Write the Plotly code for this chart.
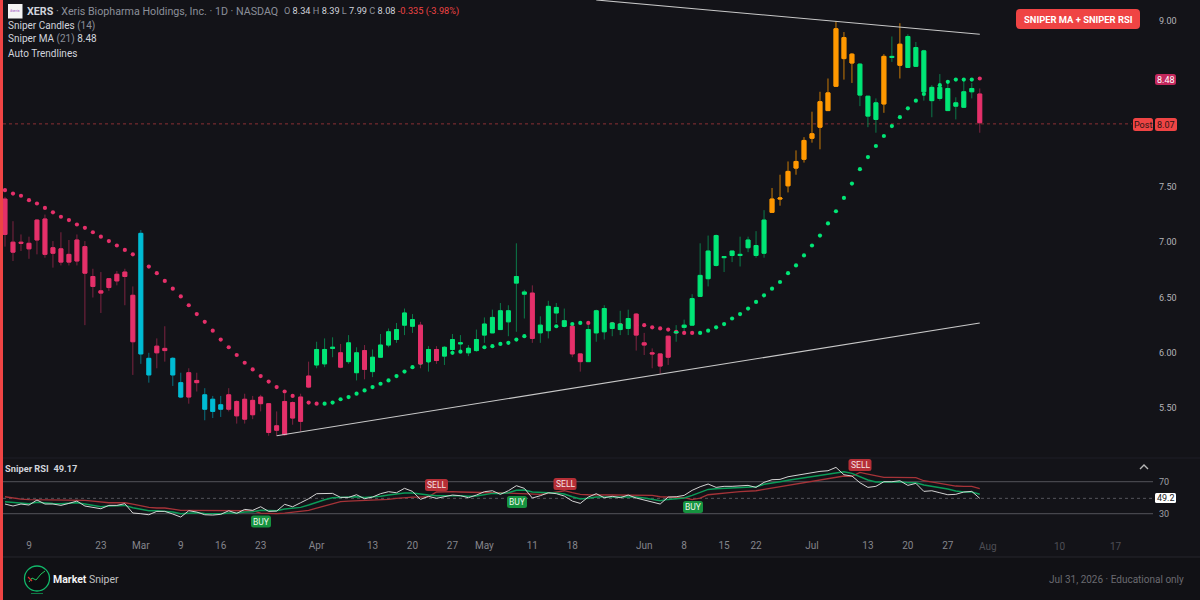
import plotly.graph_objects as go

W, H = 1200, 600
BG = "#131318"
RED, GREEN, ORANGE, CYAN = "#e5306a", "#00e676", "#ff9800", "#00bcd4"
WICK = {"r": "#7d2340", "g": "#0b7a49", "o": "#c87a06", "c": "#08707e"}
BODY = {"r": RED, "g": GREEN, "o": ORANGE, "c": CYAN}

candle_colors = list("r" * 17 + "cc" + "rr" + "cc" + "rr" + "ccc" + "r" * 11 + "ggg" + "r" + "gg" + "r" + "g" * 6
                     + "r" + "g" + "r" + "g" * 11 + "r" + "g" * 4 + "rr" + "g" * 6 + "r" * 5 + "g" * 12 + "o" * 11
                     + "ggg" + "o" + "g" + "o" + "g" * 9 + "r")

opens = [7.39, 7.00, 7.00, 6.99, 7.20, 7.21, 6.95, 6.94, 6.89, 7.02, 6.96, 6.69, 6.56, 6.67, 6.71, 6.73, 6.52,
         7.08, 5.95, 6.06, 6.04, 5.95, 5.73, 5.82, 5.75, 5.62, 5.58, 5.53,
         5.62, 5.56, 5.58, 5.57, 5.60, 5.54, 5.34, 5.56, 5.55, 5.60, 5.79,
         5.89, 5.90, 6.04, 6.00, 5.92, 5.82, 6.02, 5.83, 5.96, 6.07, 6.12, 6.25, 6.24, 6.25, 5.92, 6.03,
         5.97, 6.03, 6.08, 6.00, 6.02, 6.16, 6.18, 6.21, 6.28, 6.63, 6.53, 6.54, 6.18, 6.20, 6.36, 6.24, 6.24, 5.99,
         5.92, 6.18, 6.19, 6.22, 6.21, 6.22, 6.35, 6.09, 6.00, 5.99, 6.15,
         6.18, 6.23, 6.25, 6.51, 6.67, 6.79, 6.86, 6.88, 6.88, 6.95, 6.88, 6.90,
         7.27, 7.39, 7.51, 7.67, 7.75, 7.94, 8.04, 8.19, 8.41, 8.66, 8.62,
         8.33, 8.14, 8.11, 8.25, 8.67, 8.60, 8.58, 8.59, 8.36, 8.28, 8.30, 8.19, 8.23, 8.22, 8.36, 8.34]
closes = [7.07, 6.91, 6.99, 6.94, 7.02, 6.89, 6.90, 6.82, 6.82, 6.83, 6.72, 6.60, 6.54, 6.59, 6.65, 6.69, 6.10,
          5.99, 5.80, 6.00, 6.02, 5.80, 5.60, 5.60, 5.73, 5.49, 5.47, 5.49,
          5.49, 5.43, 5.40, 5.44, 5.54, 5.28, 5.30, 5.26, 5.41, 5.38, 5.69,
          6.03, 6.03, 6.05, 5.87, 6.09, 6.00, 5.85, 5.96, 6.07, 6.19, 6.21, 6.36, 6.30, 5.90, 6.03, 5.93,
          6.05, 6.12, 6.09, 6.04, 6.12, 6.26, 6.32, 6.38, 6.38, 6.69, 6.55, 6.13, 6.25, 6.42, 6.41, 6.29, 5.99, 5.92,
          6.21, 6.38, 6.40, 6.27, 6.26, 6.31, 6.16, 6.07, 5.99, 5.88, 5.96,
          6.19, 6.25, 6.49, 6.70, 6.92, 7.06, 6.87, 6.92, 6.89, 7.02, 6.97, 7.20,
          7.39, 7.40, 7.64, 7.73, 7.92, 7.98, 8.27, 8.35, 8.93, 8.85, 8.70,
          8.61, 8.32, 8.26, 8.68, 8.68, 8.79, 8.86, 8.76, 8.73, 8.40, 8.40, 8.39, 8.26, 8.36, 8.39, 8.08]
highs = [7.41, 7.19, 7.07, 7.05, 7.21, 7.25, 7.01, 7.09, 7.02, 7.07, 7.01, 6.76, 6.73, 6.67, 6.74, 6.76, 6.60,
         7.11, 6.00, 6.13, 6.24, 5.96, 5.82, 5.86, 5.82, 5.68, 5.61, 5.61,
         5.68, 5.57, 5.63, 5.61, 5.62, 5.54, 5.47, 5.63, 5.56, 5.63, 5.92,
         6.10, 6.13, 6.14, 6.08, 6.16, 6.05, 6.07, 6.03, 6.17, 6.22, 6.27, 6.40, 6.35, 6.28, 6.06, 6.06,
         6.06, 6.17, 6.16, 6.07, 6.21, 6.32, 6.39, 6.45, 6.43, 6.99, 6.57, 6.61, 6.33, 6.47, 6.45, 6.40, 6.26, 5.99,
         6.25, 6.39, 6.43, 6.28, 6.38, 6.39, 6.36, 6.18, 6.04, 5.99, 6.15,
         6.25, 6.30, 6.53, 6.99, 7.06, 7.07, 6.87, 6.92, 7.05, 7.05, 7.10, 7.29,
         7.49, 7.61, 7.73, 7.83, 7.95, 8.18, 8.36, 8.48, 9.00, 8.90, 8.71,
         8.62, 8.32, 8.30, 8.70, 8.86, 8.98, 8.88, 8.81, 8.74, 8.42, 8.52, 8.44, 8.31, 8.47, 8.44, 8.39]
lows = [6.96, 6.83, 6.92, 6.85, 6.89, 6.86, 6.77, 6.79, 6.79, 6.79, 6.25, 6.50, 6.36, 6.56, 6.61, 6.43, 5.80,
        5.90, 5.73, 5.86, 5.92, 5.70, 5.59, 5.54, 5.65, 5.39, 5.41, 5.42,
        5.47, 5.36, 5.36, 5.40, 5.47, 5.25, 5.25, 5.25, 5.35, 5.29, 5.68,
        5.86, 5.87, 5.96, 5.86, 5.90, 5.75, 5.76, 5.78, 5.96, 6.05, 6.09, 6.16, 6.18, 5.86, 5.83, 5.90,
        5.89, 5.99, 6.00, 5.97, 6.01, 6.09, 6.18, 6.21, 6.15, 6.19, 6.31, 6.09, 6.09, 6.13, 6.27, 6.24, 5.96, 5.83,
        5.92, 6.10, 6.12, 6.15, 6.16, 6.16, 6.02, 5.98, 5.86, 5.81, 5.89,
        6.10, 6.18, 6.25, 6.51, 6.60, 6.78, 6.73, 6.82, 6.78, 6.91, 6.86, 6.86,
        7.27, 7.33, 7.45, 7.61, 7.72, 7.90, 7.84, 8.19, 8.41, 8.47, 8.44,
        8.23, 8.04, 7.99, 8.17, 8.63, 8.48, 8.58, 8.59, 8.28, 8.13, 8.28, 8.19, 8.11, 8.22, 8.30, 7.99]

ma_values = [7.47, 7.44, 7.42, 7.38, 7.35, 7.31, 7.27, 7.23, 7.20, 7.16, 7.13, 7.09, 7.05, 7.01, 6.97, 6.93, 6.89,
             6.84, 6.78, 6.72, 6.65, 6.58, 6.51, 6.43, 6.35, 6.28, 6.20, 6.12, 6.05, 5.98, 5.91, 5.85, 5.79, 5.74,
             5.69, 5.65, 5.61, 5.58, 5.55, 5.54, 5.54, 5.55, 5.58, 5.60, 5.63, 5.66, 5.69, 5.72, 5.75, 5.79, 5.83,
             5.87, 5.91, 5.93, 5.96, 5.99, 6.00, 6.01, 6.03, 6.04, 6.05, 6.06, 6.08, 6.09, 6.12, 6.15, 6.18, 6.21,
             6.22, 6.24, 6.25, 6.26, 6.27, 6.27, 6.26, 6.26, 6.26, 6.25, 6.25, 6.25, 6.25, 6.23, 6.22, 6.21, 6.19,
             6.18, 6.18, 6.18, 6.20, 6.23, 6.26, 6.31, 6.35, 6.40, 6.46, 6.52, 6.58, 6.64, 6.72, 6.79, 6.88, 6.97,
             7.06, 7.17, 7.28, 7.40, 7.53, 7.66, 7.77, 7.87, 7.96, 8.05, 8.13, 8.21, 8.28, 8.34, 8.38, 8.42, 8.45,
             8.47, 8.47, 8.47, 8.48]
ma_colors = list("r" * 40 + "g" * 33 + "r" * 14 + "g" * 35 + "r")

rsi_raw = [42.1, 39.6, 42.1, 40.8, 47.1, 42.1, 42.1, 40.4, 42.9, 45.8, 39.6, 37.9, 36.2, 40.4, 40.4, 42.5, 30.8, 30.0,
           28.7, 32.9, 32.9, 29.6, 25.8, 33.7, 32.1, 28.7, 28.3, 29.2, 33.7, 30.4, 35.4, 34.2, 38.7, 32.9, 33.3, 41.7,
           38.7, 43.7, 48.7, 55.0, 55.0, 55.4, 50.4, 50.4, 53.7, 48.7, 50.8, 55.0, 57.5, 56.2, 61.7, 57.9, 47.9, 51.7,
           49.2, 51.7, 53.3, 52.5, 50.0, 53.3, 57.5, 58.7, 54.2, 58.7, 65.0, 61.7, 49.6, 52.5, 56.2, 55.0, 52.1, 45.8,
           42.9, 50.8, 55.0, 50.0, 51.7, 50.0, 53.3, 49.6, 47.1, 45.0, 42.1, 50.8, 51.2, 52.9, 59.2, 63.7, 67.1, 62.9,
           64.2, 64.2, 65.0, 65.4, 62.9, 69.2, 72.5, 72.9, 76.2, 77.9, 79.6, 80.4, 82.9, 83.7, 87.9, 78.7, 77.1, 68.7,
           62.9, 64.2, 70.0, 70.0, 71.2, 65.4, 67.9, 57.9, 58.7, 56.2, 53.7, 54.2, 57.1, 57.9, 49.17]
rsi_fast = [45.0, 44.2, 42.9, 42.5, 44.2, 43.3, 42.9, 42.5, 42.9, 43.7, 42.1, 40.4, 38.7, 39.6, 39.6, 40.4, 37.5, 35.4,
            33.7, 33.7, 33.3, 32.1, 30.0, 30.8, 31.2, 30.4, 30.0, 30.0, 30.8, 30.8, 32.1, 32.5, 34.2, 33.7, 33.7, 35.8,
            36.7, 37.9, 40.8, 44.6, 47.5, 50.0, 50.4, 50.4, 51.2, 50.4, 50.8, 51.7, 53.3, 54.6, 55.8, 55.8, 54.2, 53.3,
            52.5, 52.1, 52.5, 52.5, 51.7, 52.1, 54.2, 55.4, 55.4, 56.2, 59.2, 59.6, 57.1, 56.2, 56.2, 55.8, 54.6, 51.2,
            48.3, 49.2, 50.8, 50.8, 50.8, 50.8, 51.7, 50.8, 49.6, 48.3, 46.2, 47.9, 48.7, 49.6, 52.9, 56.2, 60.4, 61.2,
            61.7, 62.5, 63.3, 63.7, 63.7, 66.7, 68.7, 70.0, 71.7, 73.3, 75.0, 76.2, 77.9, 79.6, 81.2, 82.5, 80.4, 75.8,
            72.1, 69.6, 69.6, 69.6, 70.0, 68.7, 68.7, 65.8, 64.2, 62.5, 60.8, 58.3, 57.1, 57.1, 54.2]
rsi_slow = [51.2, 49.6, 48.3, 47.5, 47.5, 47.1, 47.1, 46.7, 46.7, 47.1, 46.7, 45.8, 44.6, 43.7, 43.7, 43.7, 42.1, 40.0,
            37.9, 37.1, 37.1, 35.8, 34.2, 34.2, 34.2, 33.7, 33.7, 33.7, 34.2, 33.7, 34.2, 33.7, 30.8, 30.0, 30.0, 30.8,
            32.1, 32.9, 34.2, 37.1, 40.0, 42.9, 45.0, 45.8, 46.2, 46.2, 46.7, 47.1, 47.9, 49.2, 50.4, 50.8, 50.8, 51.2,
            57.1, 57.5, 57.5, 57.1, 56.7, 57.1, 56.7, 56.2, 56.2, 55.8, 54.6, 54.6, 54.2, 54.2, 55.4, 56.7, 58.7, 56.2,
            54.2, 53.7, 53.7, 53.7, 53.7, 53.7, 53.7, 53.7, 53.3, 52.9, 51.2, 50.8, 51.2, 50.0, 47.5, 49.6, 53.7, 55.0,
            55.8, 56.7, 57.5, 57.9, 58.7, 60.4, 62.1, 63.7, 65.4, 67.1, 68.7, 70.8, 72.5, 74.2, 76.2, 77.1, 76.7, 81.7,
            79.6, 77.1, 75.4, 75.4, 75.4, 75.2, 75.2, 71.2, 69.6, 67.9, 66.2, 64.6, 64.2, 64.2, 61.2]

tick_idx = [3, 12, 17, 22, 27, 32, 39, 46, 51, 56, 60, 66, 71, 80, 85, 90, 94, 101, 108, 113, 118]
tick_labels = ["9", "23", "Mar", "9", "16", "23", "Apr", "13", "20", "27", "May", "11", "18", "Jun", "8", "15", "22",
               "Jul", "13", "20", "27"]
future_idx = [123, 132, 139]
future_labels = ["Aug", "10", "17"]
price_ticks = [5.5, 6.0, 6.5, 7.0, 7.5, 9.0]
rsi_ticks = [30, 70]

upper_trend_x = [74, 122]
upper_trend_y = [9.19, 8.88]
lower_trend_x = [34, 122]
lower_trend_y = [5.25, 6.27]
post_price = 8.07
rsi_mid = 49.2

# layout geometry in pixels
PL, PR = 3, 1153
MAIN_T, MAIN_B = 0, 458
RSI_T, RSI_B = 458, 537
STEP, X0 = 7.99, 5.0
xrange_ = [(PL - X0) / STEP, (PR - X0) / STEP]
px = lambda v: v / W
py = lambda v: 1 - v / H
n = len(closes)
idx = list(range(n))

fig = go.Figure()


def candles(xa, ya, hi, lo, palette, shown_keys="rgoc"):
    for key in shown_keys:
        pick = [i for i in idx if candle_colors[i] == key]
        col = palette[key]
        style = dict(line=dict(color=col, width=1), fillcolor=col)
        fig.add_trace(go.Candlestick(x=pick, open=[opens[i] for i in pick], close=[closes[i] for i in pick],
                                     high=[hi[i] for i in pick], low=[lo[i] for i in pick],
                                     increasing=style, decreasing=style, whiskerwidth=0,
                                     xaxis=xa, yaxis=ya, showlegend=False, hoverinfo="skip"))


# wicks first, the moving average dots above them, the candle bodies above the dots
candles("x", "y", highs, lows, WICK)
fig.add_trace(go.Scatter(x=idx, y=ma_values, mode="markers", xaxis="x2", yaxis="y2", showlegend=False, hoverinfo="skip",
                         marker=dict(size=4.2, color=[BODY[k] for k in ma_colors])))
tops = [max(a, b) for a, b in zip(opens, closes)]
bots = [min(a, b) for a, b in zip(opens, closes)]
candles("x3", "y3", tops, bots, BODY)
for tx, ty in ((upper_trend_x, upper_trend_y), (lower_trend_x, lower_trend_y)):
    fig.add_trace(go.Scatter(x=tx, y=ty, mode="lines", xaxis="x3", yaxis="y3", showlegend=False, hoverinfo="skip",
                             line=dict(color="#c8c8c8", width=1.1)))

for vals, col, wid in ((rsi_slow, "#a63338", 1.3), (rsi_fast, "#0b9c58", 1.5), (rsi_raw, "#d4d4d4", 1.0)):
    fig.add_trace(go.Scatter(x=idx, y=vals, mode="lines", xaxis="x4", yaxis="y4", showlegend=False, hoverinfo="skip",
                             line=dict(color=col, width=wid)))

shapes, annotations = [], []


def text(x, y, s, size=11, color="#d1d4dc", anchor="left", family="Roboto"):
    annotations.append(dict(xref="paper", yref="paper", x=px(x), y=py(y), text=s, showarrow=False, xanchor=anchor,
                            yanchor="middle", align=anchor, font=dict(size=size, color=color, family=family),
                            borderpad=0, borderwidth=0))


def badge(x0, y0, x1, y1, fill, label, size=9, color="#ffffff", r=2.5):
    xa, xb, ya, yb = x0, x1, y0, y1
    p = (f"M {px(xa + r)} {py(ya)} L {px(xb - r)} {py(ya)} Q {px(xb)} {py(ya)} {px(xb)} {py(ya + r)} "
         f"L {px(xb)} {py(yb - r)} Q {px(xb)} {py(yb)} {px(xb - r)} {py(yb)} L {px(xa + r)} {py(yb)} "
         f"Q {px(xa)} {py(yb)} {px(xa)} {py(yb - r)} L {px(xa)} {py(ya + r)} Q {px(xa)} {py(ya)} {px(xa + r)} {py(ya)} Z")
    shapes.append(dict(type="path", path=p, xref="paper", yref="paper", fillcolor=fill, line=dict(width=0), layer="above"))
    text((x0 + x1) / 2, (y0 + y1) / 2 + 0.3, label, size=size, color=color, anchor="center")


def rect(x0, y0, x1, y1, fill):
    shapes.append(dict(type="rect", xref="paper", yref="paper", x0=px(x0), x1=px(x1), y0=py(y0), y1=py(y1),
                       fillcolor=fill, line=dict(width=0), layer="below"))


def seg(points, color, width=1.0):
    p = "M " + " L ".join(f"{px(a)} {py(b)}" for a, b in points)
    shapes.append(dict(type="path", path=p, xref="paper", yref="paper", line=dict(color=color, width=width), layer="above"))


# panes and frame
rect(0, 557, W, H, "#111115")
seg([(3, 458), (W, 458)], "#1f1f26")
seg([(3, 557), (W, 557)], "#26262c")
shapes.append(dict(type="rect", xref="paper", yref="paper", x0=0, x1=px(3), y0=0, y1=1, fillcolor="#ef4444",
                   line=dict(width=0), layer="above"))

# price reference line and RSI guides
shapes.append(dict(type="line", xref="paper", yref="y", x0=px(PL), x1=px(1132), y0=post_price, y1=post_price,
                   line=dict(color="#8a3034", width=1, dash="dot"), layer="below"))
for level in rsi_ticks:
    shapes.append(dict(type="line", xref="paper", yref="y4", x0=px(PL), x1=px(PR), y0=level, y1=level,
                       line=dict(color="#46464c", width=1.3), layer="below"))
shapes.append(dict(type="line", xref="paper", yref="y4", x0=px(PL), x1=px(PR), y0=rsi_mid, y1=rsi_mid,
                   line=dict(color="#55555c", width=1, dash="3px,3px"), layer="below"))

# header texts
shapes.append(dict(type="rect", xref="paper", yref="paper", x0=px(8), x1=px(22.5), y0=py(4), y1=py(18.5),
                   fillcolor="#f4f4f4", line=dict(width=0), layer="above"))
text(15.2, 11.3, "#xeris", size=3.5, color="#9a4cc0", anchor="center")
text(27, 11.3, "<b>XERS</b><span style='color:#8b8f98'> · Xeris Biopharma Holdings, Inc. · 1D · NASDAQ</span>", size=10.7)
text(284, 11.3, "<span style='color:#8b8f98'>O</span> 8.34 <span style='color:#8b8f98'>H</span> 8.39 "
     "<span style='color:#8b8f98'>L</span> 7.99 <span style='color:#8b8f98'>C</span> 8.08 "
     "<span style='color:#ef4444'>-0.335 (-3.98%)</span>", size=9.2)
text(8, 26, "Sniper Candles <span style='color:#8b8f98'>(14)</span>", size=10)
text(8, 39.5, "Sniper MA <span style='color:#8b8f98'>(21)</span> 8.48", size=10)
text(8, 53, "Auto Trendlines", size=10)
text(5, 468, "<b>Sniper RSI</b>  <b>49.17</b>", size=9.3)

# right side tags
badge(1016, 9, 1140, 29, "#ef4444", "<b>SNIPER MA + SNIPER RSI</b>", size=9.4, r=4)
badge(1155, 74, 1176, 85, "#c2285c", "8.48", size=9)
badge(1133, 118, 1153, 131, "#ef4444", "Post", size=9, color="#2a1414")
badge(1155, 118, 1177, 131, "#ef4444", "8.07", size=9, color="#2a1414")
badge(1155, 493, 1176, 503, "#ffffff", "49.2", size=9, color="#222222", r=1.5)

# signal tags on the RSI pane
for cx, cy, label in ((261, 521.5, "BUY"), (517, 502, "BUY"), (693, 507, "BUY")):
    badge(cx - 10, cy - 6, cx + 10, cy + 6, "#16933f", label, size=8.5, color="#e8f5ec")
for cx, cy, label in ((436.5, 485, "SELL"), (565, 484, "SELL"), (860, 465, "SELL")):
    badge(cx - 11.5, cy - 6, cx + 11.5, cy + 6, "#b52f36", label, size=8.5, color="#f6e3e3")

# collapse chevron
seg([(1140, 469), (1144, 465), (1148, 469)], "#b8b8b8", 1.4)

# future date labels are dimmer
for i, label in zip(future_idx, future_labels):
    annotations.append(dict(xref="x4", yref="paper", x=i, y=py(546), text=label, showarrow=False, xanchor="center",
                            yanchor="middle", font=dict(size=10, color="#4e4e55", family="Roboto")))

# footer
shapes.append(dict(type="circle", xref="paper", yref="paper", x0=px(24.5), x1=px(49.5), y0=py(566), y1=py(591),
                   line=dict(color="#12b76a", width=1.3), fillcolor="#0c0c0f", layer="above"))
seg([(29, 582), (32, 578), (36, 580), (41, 574), (45, 571)], "#22c55e", 1)
seg([(28, 577), (32, 581)], "#dc2626", 1.3)
seg([(31, 593.5), (43, 593.5)], "#0f7a45", 1)
text(53, 579, "<b>Market</b> <span style='color:#c0c0c0'>Sniper</span>", size=10.5, color="#f2f2f2")
text(1184, 579, "Jul 31, 2026 · Educational only", size=10, color="#6a6a70", anchor="right")

axis_off = dict(range=xrange_, domain=[px(PL), px(PR)], visible=False, fixedrange=True, rangeslider=dict(visible=False))
y_range = [9 - (MAIN_B - 21) / 110.6, 9 + 21 / 110.6]
y_common = dict(range=y_range, domain=[py(MAIN_B), py(MAIN_T)], fixedrange=True, showgrid=False, zeroline=False)

fig.update_layout(
    width=W, height=H, autosize=False, margin=dict(l=0, r=0, t=0, b=0), paper_bgcolor=BG, plot_bgcolor=BG,
    showlegend=False, shapes=shapes, annotations=annotations, hovermode=False, boxmode="overlay", dragmode=False,
    font=dict(family="Roboto", color="#a8a8ae"),
    xaxis=dict(axis_off, anchor="y"),
    xaxis2=dict(axis_off, overlaying="x", anchor="y2"),
    xaxis3=dict(axis_off, overlaying="x", anchor="y3"),
    xaxis4=dict(range=xrange_, domain=[px(PL), px(PR)], anchor="y4", tickmode="array", tickvals=tick_idx,
                ticktext=tick_labels, showgrid=False, zeroline=False, showline=False, ticks="", fixedrange=True,
                tickfont=dict(size=10, color="#85858c", family="Roboto"), ticklabelstandoff=1),
    yaxis=dict(y_common, side="right", anchor="x", tickmode="array", tickvals=price_ticks, ticktext=["%.2f" % v for v in price_ticks],
               ticks="", showline=False, tickfont=dict(size=9, color="#b4b4b8", family="Roboto"), ticklabelstandoff=5),
    yaxis2=dict(y_common, overlaying="y", anchor="x2", visible=False),
    yaxis3=dict(y_common, overlaying="y", anchor="x3", visible=False),
    yaxis4=dict(range=[70 - (RSI_B - 481.7) / 0.8, 70 + (481.7 - RSI_T) / 0.8], domain=[py(RSI_B), py(RSI_T)], side="right",
                anchor="x4", tickmode="array", tickvals=rsi_ticks, ticks="", showgrid=False, zeroline=False, showline=False,
                fixedrange=True, tickfont=dict(size=9, color="#a0a0a6", family="Roboto"), ticklabelstandoff=5),
)

fig.write_html("out.html", config=dict(displayModeBar=False),
               post_script="document.body.style.margin='0';document.body.style.background='%s';" % BG)
